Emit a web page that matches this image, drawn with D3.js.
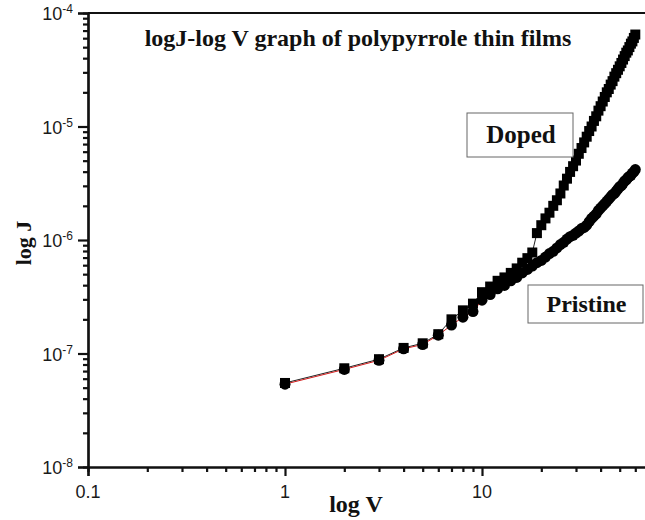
<!DOCTYPE html>
<html>
<head>
<meta charset="utf-8">
<script src="https://cdn.jsdelivr.net/npm/d3@7"></script>
<style>
  html, body { margin: 0; padding: 0; background: #fff; }
  svg { display: block; }
  .tick-label { font-family: "Liberation Sans", Arial, sans-serif; font-size: 18px; fill: #1a1a1a; }
  .serif-bold { font-family: "Liberation Serif", "Times New Roman", serif; font-weight: bold; fill: #111; }
</style>
</head>
<body>
<svg id="chart" width="645" height="520"></svg>
<script>
// voltage steps (V)
const voltage = [1, 2, 3, 4, 5, 6, 7, 8, 9, 10,
  11, 12, 13, 14, 15, 16, 17, 18, 19, 20,
  21, 22, 23, 24, 25, 26, 27, 28, 29, 30,
  31, 32, 33, 34, 35, 36, 37, 38, 39, 40,
  41, 42, 43, 44, 45, 46, 47, 48, 49, 50,
  51, 52, 53, 54, 55, 56, 57, 58, 59, 60];

// current density J for the doped film
const dopedJ = [5.50e-8, 7.41e-8, 8.91e-8, 1.12e-7, 1.23e-7, 1.48e-7, 2.00e-7, 2.40e-7, 2.75e-7, 3.47e-7,
  3.89e-7, 4.37e-7, 4.68e-7, 5.13e-7, 5.62e-7, 6.31e-7, 6.92e-7, 7.76e-7, 1.15e-6, 1.35e-6,
  1.55e-6, 1.74e-6, 2.00e-6, 2.24e-6, 2.57e-6, 3.02e-6, 3.47e-6, 3.98e-6, 4.47e-6, 5.01e-6,
  5.75e-6, 6.46e-6, 7.24e-6, 8.13e-6, 9.12e-6, 1.00e-5, 1.12e-5, 1.23e-5, 1.38e-5, 1.51e-5,
  1.66e-5, 1.82e-5, 2.00e-5, 2.14e-5, 2.34e-5, 2.51e-5, 2.75e-5, 2.95e-5, 3.16e-5, 3.39e-5,
  3.63e-5, 3.89e-5, 4.17e-5, 4.47e-5, 4.68e-5, 5.01e-5, 5.37e-5, 5.62e-5, 6.03e-5, 6.46e-5];

// current density J for the pristine film
const pristineJ = [5.37e-8, 7.24e-8, 8.71e-8, 1.10e-7, 1.20e-7, 1.45e-7, 1.78e-7, 2.09e-7, 2.34e-7, 2.95e-7,
  3.31e-7, 3.72e-7, 3.98e-7, 4.37e-7, 4.68e-7, 5.13e-7, 5.50e-7, 5.89e-7, 6.31e-7, 6.61e-7,
  7.08e-7, 7.59e-7, 7.94e-7, 8.51e-7, 9.12e-7, 9.55e-7, 1.02e-6, 1.07e-6, 1.10e-6, 1.15e-6,
  1.20e-6, 1.26e-6, 1.29e-6, 1.35e-6, 1.45e-6, 1.55e-6, 1.62e-6, 1.70e-6, 1.82e-6, 1.91e-6,
  2.00e-6, 2.09e-6, 2.19e-6, 2.29e-6, 2.40e-6, 2.51e-6, 2.57e-6, 2.69e-6, 2.82e-6, 2.95e-6,
  3.02e-6, 3.16e-6, 3.31e-6, 3.39e-6, 3.55e-6, 3.63e-6, 3.72e-6, 3.89e-6, 3.98e-6, 4.17e-6];

// axis ticks and labels
const xTicks = [0.1, 1, 10];
const xTickLabels = ["0.1", "1", "10"];
const yTicks = [1e-8, 1e-7, 1e-6, 1e-5, 1e-4];
const yTickExponents = ["-8", "-7", "-6", "-5", "-4"];

const titleText = "logJ-log V graph of polypyrrole thin films";
const xTitle = "log V";
const yTitle = "log J";
const seriesLabels = ["Doped", "Pristine"];

const svg = d3.select("#chart");
const margin = { top: 13, left: 88, bottom: 467 };

// one decade is ~197px wide; the plot is cut off at the right edge of the picture
const x = d3.scaleLog().domain([0.1, 100]).range([margin.left, margin.left + 3 * 197]);
const y = d3.scaleLog().domain([1e-8, 1e-4]).range([margin.bottom, margin.top]);

// minor tick values
const xMinor = [];
[0.1, 1, 10].forEach(d => { for (let k = 2; k <= 9; k++) xMinor.push(d * k); });
const yMinor = [];
[1e-8, 1e-7, 1e-6, 1e-5].forEach(d => { for (let k = 2; k <= 9; k++) yMinor.push(d * k); });

const axisColor = "#111";

// top frame line
svg.append("line")
    .attr("x1", margin.left).attr("x2", 645)
    .attr("y1", y(1e-4)).attr("y2", y(1e-4))
    .attr("stroke", axisColor).attr("stroke-width", 2.2);

// bottom axis
const gx = svg.append("g").attr("transform", `translate(0,${margin.bottom})`);
gx.call(d3.axisBottom(x).tickValues(xTicks).tickSize(9).tickFormat(""));
gx.call(g => g.append("g").call(d3.axisBottom(x).tickValues(xMinor).tickSize(5).tickFormat("")));
gx.selectAll("path.domain").attr("stroke", axisColor).attr("stroke-width", 2.2);
gx.selectAll(".tick line").attr("stroke", axisColor).attr("stroke-width", 2.2);

// left axis
const gy = svg.append("g").attr("transform", `translate(${margin.left},0)`);
gy.call(d3.axisLeft(y).tickValues(yTicks).tickSize(10).tickFormat(""));
gy.call(g => g.append("g").call(d3.axisLeft(y).tickValues(yMinor).tickSize(5).tickFormat("")));
gy.selectAll("path.domain").attr("stroke", axisColor).attr("stroke-width", 2.2);
gy.selectAll(".tick line").attr("stroke", axisColor).attr("stroke-width", 2.2);

// x tick labels
svg.append("g").selectAll("text")
    .data(xTicks)
    .join("text")
    .attr("class", "tick-label")
    .attr("x", d => x(d))
    .attr("y", margin.bottom + 31)
    .attr("text-anchor", "middle")
    .text((d, i) => xTickLabels[i]);

// y tick labels, 10 with a raised exponent
const yl = svg.append("g").selectAll("text")
    .data(yTicks)
    .join("text")
    .attr("class", "tick-label")
    .attr("x", 73)
    .attr("y", d => y(d) + 7)
    .attr("text-anchor", "end");
yl.append("tspan").text("10");
yl.append("tspan")
    .attr("dy", -7)
    .style("font-size", "12px")
    .text((d, i) => yTickExponents[i]);

// connecting lines
const line = (vals) => d3.line()
    .x((d, i) => x(voltage[i]))
    .y(d => y(d))(vals);

svg.append("path")
    .attr("d", line(dopedJ))
    .attr("fill", "none")
    .attr("stroke", "#222")
    .attr("stroke-width", 1);

svg.append("path")
    .attr("d", line(pristineJ))
    .attr("fill", "none")
    .attr("stroke", "#d21a1a")
    .attr("stroke-width", 1);

// markers
const sq = 10;
svg.append("g").selectAll("rect")
    .data(dopedJ)
    .join("rect")
    .attr("x", (d, i) => x(voltage[i]) - sq / 2)
    .attr("y", d => y(d) - sq / 2)
    .attr("width", sq)
    .attr("height", sq)
    .attr("fill", "#000");

svg.append("g").selectAll("circle")
    .data(pristineJ)
    .join("circle")
    .attr("cx", (d, i) => x(voltage[i]))
    .attr("cy", d => y(d))
    .attr("r", 5.5)
    .attr("fill", "#000");

// title
svg.append("text")
    .attr("class", "serif-bold")
    .attr("x", 358)
    .attr("y", 46)
    .attr("text-anchor", "middle")
    .style("font-size", "24px")
    .text(titleText);

// axis titles
svg.append("text")
    .attr("class", "serif-bold")
    .attr("x", 356)
    .attr("y", 512)
    .attr("text-anchor", "middle")
    .style("font-size", "24px")
    .text(xTitle);

svg.append("text")
    .attr("class", "serif-bold")
    .attr("transform", "translate(31,243) rotate(-90)")
    .attr("text-anchor", "middle")
    .style("font-size", "22px")
    .text(yTitle);

// series label boxes
const boxes = [
    { x0: 467, y0: 113, x1: 573, y1: 157 },
    { x0: 528, y0: 285, x1: 643, y1: 323 }
];
const labelSizes = [25, 24];
boxes.forEach((b, i) => {
    svg.append("rect")
        .attr("x", b.x0).attr("y", b.y0)
        .attr("width", b.x1 - b.x0).attr("height", b.y1 - b.y0)
        .attr("fill", "#fff")
        .attr("stroke", "#666")
        .attr("stroke-width", 1);
    svg.append("text")
        .attr("class", "serif-bold")
        .attr("x", (b.x0 + b.x1) / 2 + 1)
        .attr("y", (b.y0 + b.y1) / 2 + 8)
        .attr("text-anchor", "middle")
        .style("font-size", labelSizes[i] + "px")
        .text(seriesLabels[i]);
});
</script>
</body>
</html>
